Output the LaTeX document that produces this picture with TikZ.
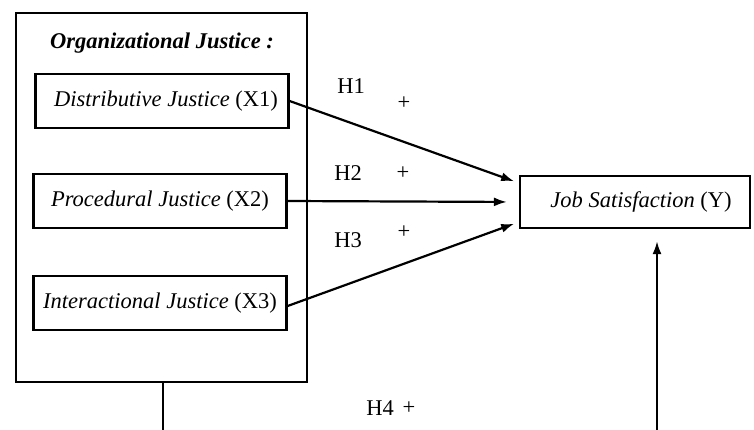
\documentclass[tikz,border=0pt]{standalone}
\usepackage{fontspec}
\setmainfont{Liberation Serif}
\usetikzlibrary{arrows.meta}
\begin{document}
\begin{tikzpicture}[x=1pt, y=-1pt,
  font=\fontsize{22.5}{26}\selectfont,
  >={Latex[length=13pt,width=9pt]},
  varbox/.style={draw, line width=2.2pt, minimum width=253pt, minimum height=54pt, inner sep=0pt}]
\useasboundingbox (0,0) rectangle (754,430);

% outer block
\node[draw, line width=2.2pt, minimum width=291pt, minimum height=369pt] (org) at (161.5,197.5) {};
\node (title) at (162,43) {\textbf{\textit{Organizational Justice :}}};

\node[varbox] (x1) at (162,101) {\hspace{8pt}\textit{Distributive Justice} (X1)};
\node[varbox] (x2) at (160,201) {\textit{Procedural Justice} (X2)};
\node[varbox] (x3) at (160,303) {\textit{Interactional Justice} (X3)};

\node[draw, line width=2.2pt, minimum width=230pt, minimum height=52pt, inner sep=0pt] (js) at (635,202) {\hspace{12pt}\textit{Job Satisfaction} (Y)};

\draw[->, line width=2.2pt, shorten >=5pt] (x1.east) -- ([yshift=19pt]js.west);
\draw[->, line width=2.2pt, shorten >=12pt] (x2.east) -- (js.west);
\draw[->, line width=2.2pt, shorten >=5pt] ([yshift=-3pt]x3.east) -- ([yshift=-20pt]js.west);

\node (h1) at (351,86) {H1};
\node (p1) at (404,103) {+};
\node (h2) at (348,173) {H2};
\node (p2) at (403,173) {+};
\node (h3) at (348,240) {H3};
\node (p3) at (404,232) {+};

% H4 path, cut off at the bottom
\coordinate (b1) at (163,430);
\coordinate (b2) at (657,430);
\draw[line width=2.2pt] (org.south -| b1) -- (b1);
\draw[->, line width=2.2pt, shorten >=12pt] (b2) -- (b2 |- js.south);
\node (h4) at (380,408) {H4};
\node (p4) at (409,408) {+};

\end{tikzpicture}
\end{document}
